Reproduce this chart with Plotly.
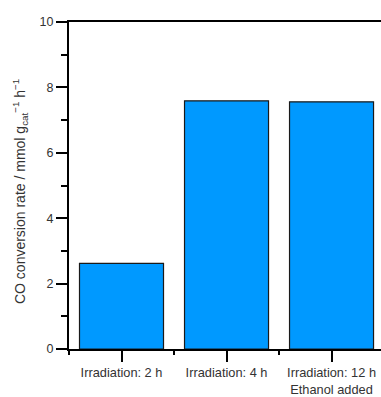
import plotly.graph_objects as go

categories = ["Irradiation: 2 h", "Irradiation: 4 h", "Irradiation: 12 h<br>Ethanol added"]
positions = [0, 1, 2]
rates = [2.62, 7.59, 7.56]
y_ticks = [0, 2, 4, 6, 8, 10]
y_title = "CO conversion rate / mmol g<sub>cat</sub><sup>−1</sup> h<sup>−1</sup>"

FONT = "Liberation Sans, Arial, sans-serif"

fig = go.Figure()
fig.add_trace(go.Bar(
    x=positions, y=rates, width=0.8,
    marker=dict(color="#0099ff", line=dict(color="#1a1a1a", width=1.2)),
))

fig.update_layout(
    width=381, height=397,
    margin=dict(l=69, r=0, t=22, b=44),
    paper_bgcolor="white", plot_bgcolor="white",
    showlegend=False,
    font=dict(family=FONT, size=12, color="#333"),
)
fig.update_xaxes(
    range=[-0.5, 2.471],
    tickvals=positions, ticktext=categories,
    ticks="outside", ticklen=11, tickwidth=1.5, tickcolor="black",
    minor=dict(tickvals=[-0.5, 0.5, 1.5], ticks="outside", ticklen=4, tickwidth=1.5, tickcolor="black"),
    showline=True, linecolor="black", linewidth=2, mirror=True,
    showgrid=False, zeroline=False,
    tickfont=dict(size=12.8, color="#333"),
)
fig.update_yaxes(
    range=[0, 10],
    tickvals=y_ticks,
    ticks="outside", ticklen=11, tickwidth=1.5, tickcolor="black",
    minor=dict(dtick=1, tick0=0, ticks="outside", ticklen=6, tickwidth=1.5, tickcolor="black"),
    showline=True, linecolor="black", linewidth=2, mirror=False,
    showgrid=False, zeroline=False,
    tickfont=dict(size=12.5, color="#333"),
)
fig.add_annotation(
    text=y_title, textangle=-90, showarrow=False,
    xref="paper", yref="paper", x=-49 / 312, y=0.48,
    xanchor="center", yanchor="middle",
    font=dict(size=14, color="#333"),
)

fig.write_html("out.html")
